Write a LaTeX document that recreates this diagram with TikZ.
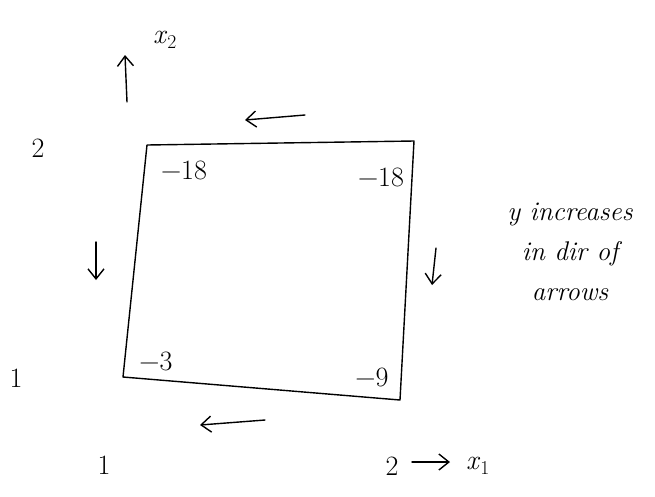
\documentclass[tikz,border=0pt]{standalone}
\usetikzlibrary{arrows.meta}
\newcommand{\mn}{\textminus}
\begin{document}
\begin{tikzpicture}[x=1pt,y=-1pt,
  hand/.style={line width=1.4pt,line cap=round,line join=round},
  arr/.style={hand,-{Straight Barb[length=10pt,width=16pt,line width=1.4pt]}},
  lbl/.style={font=\fontsize{28}{32}\selectfont},
  note/.style={font=\itshape\fontsize{27}{40}\selectfont,align=center}]
\useasboundingbox (0,0) rectangle (655,496);
% square corners
\coordinate (tl) at (147,145);
\coordinate (tr) at (414,141);
\coordinate (br) at (400,400);
\coordinate (bl) at (123,377);
\draw[hand] (tl) -- (tr) -- (br) -- (bl) -- cycle;
% corner values
\node[lbl] (vtl) at (184,170) {\mn18};
\node[lbl] (vtr) at (381,177) {\mn18};
\node[lbl] (vbl) at (156,361) {\mn3};
\node[lbl] (vbr) at (372,377) {\mn9};
% direction arrows
\coordinate (ta1) at (305,115); \coordinate (ta2) at (245,120);
\draw[arr] (ta1) -- (ta2);
\coordinate (la1) at (96,242); \coordinate (la2) at (96,280);
\draw[arr] (la1) -- (la2);
\coordinate (ra1) at (436,248); \coordinate (ra2) at (432,285);
\draw[arr] (ra1) -- (ra2);
\coordinate (ba1) at (265,420); \coordinate (ba2) at (200,425);
\draw[arr] (ba1) -- (ba2);
% axes
\coordinate (x2a) at (127,102); \coordinate (x2b) at (125,55);
\draw[arr] (x2a) -- (x2b);
\node[lbl] (x2) at (165,40) {\textit{x}\textsubscript{2}};
\node[lbl] (y2) at (38,148) {2};
\node[lbl] (y1) at (16,378) {1};
\node[lbl] (xl1) at (104,465) {1};
\node[lbl] (xl2) at (392,466) {2};
\coordinate (x1a) at (412,462); \coordinate (x1b) at (450,462);
\draw[arr] (x1a) -- (x1b);
\node[lbl] (x1) at (478,466) {\textit{x}\textsubscript{1}};
% note
\node[note] (nt) at (570,252) {y increases\\in dir of\\arrows};
\end{tikzpicture}
\end{document}
